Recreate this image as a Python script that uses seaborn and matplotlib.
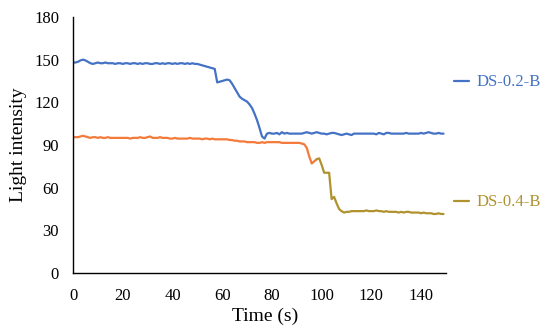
import numpy as np
import pandas as pd
import matplotlib
matplotlib.use("Agg")
import matplotlib.pyplot as plt
from matplotlib.lines import Line2D
import seaborn as sns

time_s = list(range(150))

ds02_b = [
    148, 148, 148.5, 149.5, 150, 149.5, 148.5, 147.5, 147, 147.5,
    148, 147.5, 147.5, 148, 147.5, 147.5, 147.5, 147, 147.5, 147.5,
    147, 147.5, 147.5, 147, 147.5, 147.5, 147, 147.5, 147, 147.5,
    147.5, 147, 147, 147.5, 147.5, 147, 147.5, 147, 147.5, 147.5,
    147, 147.5, 147, 147.5, 147.5, 147, 147.5, 147, 147.5, 147,
    147, 146.5, 146, 145.5, 145, 144.5, 144, 143.5, 134, 134.5,
    135, 135.5, 136, 135.5, 133, 130, 127, 124, 122.5, 121.5,
    120.5, 118.5, 116, 112, 107.5, 102, 96, 94.5, 98, 98.5,
    98, 98, 98.5, 97.5, 99, 98, 98.5, 98, 98, 98,
    98, 98, 98, 98.5, 99, 98.5, 98, 98.5, 99, 98.5,
    98, 98, 97.5, 98, 98.5, 98.5, 98, 97.5, 97, 97.5,
    98, 97.5, 97, 98, 98, 98, 98, 98, 98, 98,
    98, 98, 97.5, 98.5, 98, 97.5, 98.5, 98.5, 98, 98,
    98, 98, 98, 98, 98.5, 98, 98, 98, 98, 98,
    98.5, 98, 98.5, 99, 98.5, 98, 98, 98.5, 98, 98,
]

ds04_b = [
    95.5, 95.5, 95.5, 96, 96.5, 96, 95.5, 95, 95.5, 95.5,
    95, 95.5, 95, 95, 95.5, 95, 95, 95, 95, 95,
    95, 95, 95, 94.5, 95, 95, 95, 95.5, 95, 95,
    95.5, 96, 95, 95, 95, 95.5, 95, 95, 95, 94.5,
    94.5, 95, 94.5, 94.5, 94.5, 94.5, 94.5, 95, 94.5, 94.5,
    94.5, 94.5, 94, 94.5, 94.5, 94, 94.5, 94, 94, 94,
    94, 94, 94, 93.5, 93.5, 93, 93, 92.5, 92.5, 92.5,
    92, 92, 92, 92, 91.5, 91.5, 92, 91.5, 92, 92,
    92, 92, 92, 92, 91.5, 91.5, 91.5, 91.5, 91.5, 91.5,
    91.5, 91.5, 91, 90.5, 88, 82, 77, 78.5, 80, 80.6,
    76, 70.5, 70.5, 70.5, 52, 53.5, 49, 45, 43.5, 42.5,
    43, 43, 43.5, 43.5, 43.5, 43.5, 43.5, 43.5, 44, 43.5,
    43.5, 43.5, 44, 43.5, 43.5, 43, 43.5, 43, 43, 43,
    43, 42.5, 43, 42.5, 43, 43, 42.5, 42.5, 42.5, 42.5,
    42, 42.5, 42, 42, 42, 41.5, 41.5, 42, 41.5, 41.5,
]

series_names = ["DS-0.2-B", "DS-0.4-B"]
x_ticks = [0, 20, 40, 60, 80, 100, 120, 140]
y_ticks = [0, 30, 60, 90, 120, 150, 180]

BLUE = "#4472C4"
ORANGE = "#F47A3A"
OLIVE = "#B0922E"

sns.set_theme(style="white")
plt.rcParams["font.family"] = ["Liberation Serif", "DejaVu Serif"]

fig = plt.figure(figsize=(5.5, 3.34), dpi=100)
ax = fig.add_axes([73/550, 1-273/334, (446-73)/550, (273-17)/334])

df_b = pd.DataFrame({"t": time_s, "v": ds02_b})
df_o = pd.DataFrame({"t": time_s, "v": ds04_b})
split = 98
sns.lineplot(data=df_b, x="t", y="v", ax=ax, color=BLUE, lw=1.6)
sns.lineplot(data=df_o[df_o.t <= split], x="t", y="v", ax=ax, color=ORANGE, lw=1.6)
sns.lineplot(data=df_o[df_o.t >= split], x="t", y="v", ax=ax, color=OLIVE, lw=1.6)

ax.set_xlim(0, 150)
ax.set_ylim(0, 180)
ax.set_xticks(x_ticks)
ax.set_yticks(y_ticks)
ax.tick_params(axis="both", length=0, labelsize=12, colors="black")
ax.tick_params(axis="x", pad=11)
ax.tick_params(axis="y", pad=10)
for s in ["top", "right"]:
    ax.spines[s].set_visible(False)
for s in ["left", "bottom"]:
    ax.spines[s].set_color("black")
    ax.spines[s].set_linewidth(1.0)
ax.set_xlabel("")
ax.set_ylabel("Light intensity", fontsize=14, color="black", labelpad=5)
fig.text(265/550, 1-316/334, "Time (s)", fontsize=14, color="black",
         ha="center", va="center")

# end labels
for name, col, ypix in [(series_names[0], BLUE, 81), (series_names[1], OLIVE, 201)]:
    yf = 1 - ypix/334
    fig.add_artist(Line2D([454/550, 469/550], [yf, yf], color=col, lw=1.6))
    fig.text(477/550, yf - 1/334, name, color=col, fontsize=12, va="center", ha="left")

fig.savefig("out.png", dpi=100)
